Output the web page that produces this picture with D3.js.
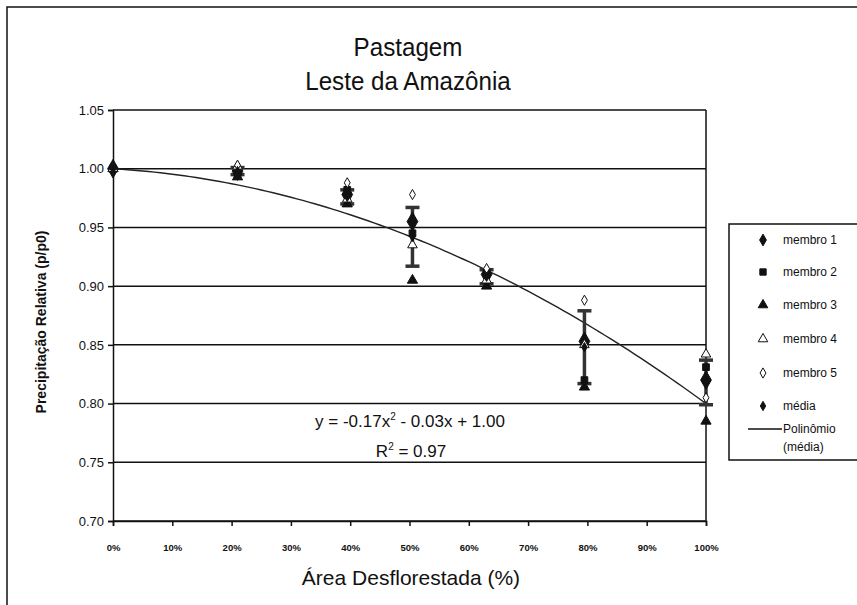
<!DOCTYPE html>
<html>
<head>
<meta charset="utf-8">
<script src="https://cdn.jsdelivr.net/npm/d3@7"></script>
<style>
  body { margin: 0; background: #fff; }
  text { font-family: "Liberation Sans", Arial, sans-serif; fill: #111; }
</style>
</head>
<body>
<svg width="857" height="605"></svg>
<script>
// desmatamento (fração da área) e precipitação relativa por membro
var desmat = [0, 0.21, 0.395, 0.505, 0.63, 0.795, 1.0];
var membro1 = [1.000, 0.998, 0.978, 0.955, 0.910, 0.853, 0.820];
var membro2 = [1.000, 0.995, 0.982, 0.945, 0.912, 0.820, 0.831];
var membro3 = [1.000, 0.993, 0.970, 0.905, 0.900, 0.814, 0.785];
var membro4 = [1.000, 1.002, 0.974, 0.935, 0.905, 0.850, 0.842];
var membro5 = [1.000, 1.003, 0.988, 0.978, 0.915, 0.888, 0.805];
var media   = [1.000, 0.998, 0.976, 0.942, 0.908, 0.848, 0.818];
var desvio  = [0.000, 0.003, 0.006, 0.025, 0.006, 0.031, 0.019];
// coeficientes do polinômio mostrado no gráfico: a0 + a1 x + a2 x^2
var polyCoef = [1.00, -0.03, -0.17];
var yTicks = [0.70, 0.75, 0.80, 0.85, 0.90, 0.95, 1.00, 1.05];
var xTicks = [0, 0.1, 0.2, 0.3, 0.4, 0.5, 0.6, 0.7, 0.8, 0.9, 1.0];
var legendNames = ["membro 1", "membro 2", "membro 3", "membro 4", "membro 5", "média"];

var svg = d3.select("svg");

var x = d3.scaleLinear().domain([0, 1]).range([113, 706]);
var y = d3.scaleLinear().domain([0.70, 1.05]).range([521, 110]);

// moldura externa
svg.append("path")
    .attr("d", "M7,620 L7,7 L870,7")
    .attr("fill", "none").attr("stroke", "#111").attr("stroke-width", 1.5);

// titulo
var title = svg.append("g").attr("transform", "translate(408,0) scale(0.93,1)");
title.append("text").attr("y", 56).attr("text-anchor", "middle")
    .style("font-size", "26px").text("Pastagem");
title.append("text").attr("y", 90).attr("text-anchor", "middle")
    .style("font-size", "26px").text("Leste da Amazônia");

// grade horizontal
svg.append("g").selectAll("line")
    .data(yTicks)
    .enter().append("line")
    .attr("x1", x(0)).attr("x2", x(1))
    .attr("y1", function(d) { return y(d); })
    .attr("y2", function(d) { return y(d); })
    .attr("stroke", "#111").attr("stroke-width", 1.5);

// borda direita da área de plotagem
svg.append("line")
    .attr("x1", x(1)).attr("x2", x(1)).attr("y1", y(1.05)).attr("y2", y(0.70))
    .attr("stroke", "#111").attr("stroke-width", 1.5);

var yAxis = svg.append("g")
    .attr("transform", "translate(" + x(0) + ",0)")
    .call(d3.axisLeft(y).tickValues(yTicks).tickSize(5).tickPadding(4)
        .tickFormat(d3.format(".2f")));
yAxis.selectAll("text").style("font-size", "13px");

var xAxis = svg.append("g")
    .attr("transform", "translate(0," + y(0.70) + ")")
    .call(d3.axisBottom(x).tickValues(xTicks).tickSize(5).tickPadding(18)
        .tickFormat(d3.format(".0%")));
xAxis.selectAll("text").style("font-size", "9.5px").style("font-weight", "bold");

[yAxis, xAxis].forEach(function(a) {
    a.select(".domain").attr("stroke", "#111").attr("stroke-width", 1.5);
    a.selectAll(".tick line").attr("stroke", "#111").attr("stroke-width", 1.5);
});

// rótulos dos eixos
svg.append("text")
    .attr("transform", "translate(46,322) rotate(-90)")
    .attr("text-anchor", "middle")
    .style("font-size", "14px").style("font-weight", "bold")
    .text("Precipitação Relativa (p/p0)");

svg.append("text")
    .attr("x", 411).attr("y", 585).attr("text-anchor", "middle")
    .style("font-size", "21px")
    .text("Área Desflorestada (%)");

// linha de tendência polinomial
var xs = d3.range(0, 1.0001, 0.01);
var trend = d3.line()
    .x(function(d) { return x(d); })
    .y(function(d) { return y(polyCoef[0] + polyCoef[1] * d + polyCoef[2] * d * d); });
svg.append("path")
    .datum(xs)
    .attr("d", trend)
    .attr("fill", "none").attr("stroke", "#222").attr("stroke-width", 1.4);

// barras de erro da média
var eb = svg.append("g").attr("stroke", "#333").attr("stroke-width", 3.5);
desmat.forEach(function(d, i) {
    if (desvio[i] <= 0) return;
    var cx = x(d), t = y(media[i] + desvio[i]), b = y(media[i] - desvio[i]);
    eb.append("line").attr("x1", cx).attr("x2", cx).attr("y1", t).attr("y2", b);
    eb.append("line").attr("x1", cx - 7).attr("x2", cx + 7).attr("y1", t).attr("y2", t);
    eb.append("line").attr("x1", cx - 7).attr("x2", cx + 7).attr("y1", b).attr("y2", b);
});

var seriesDefs = [
    { vals: membro1, sym: d3.symbolDiamond, size: 100, fill: "#111" },
    { vals: membro2, sym: d3.symbolSquare, size: 45, fill: "#111" },
    { vals: membro3, sym: d3.symbolTriangle, size: 45, fill: "#111" },
    { vals: membro4, sym: d3.symbolTriangle, size: 40, fill: "#fff" },
    { vals: membro5, sym: d3.symbolDiamond, size: 30, fill: "#fff" },
    { vals: media, sym: d3.symbolDiamond, size: 25, fill: "#111" }
];

seriesDefs.forEach(function(s) {
    svg.append("g").selectAll("path")
        .data(s.vals)
        .enter().append("path")
        .attr("transform", function(d, i) { return "translate(" + x(desmat[i]) + "," + y(d) + ")"; })
        .attr("d", d3.symbol().type(s.sym).size(s.size))
        .attr("fill", s.fill).attr("stroke", "#111").attr("stroke-width", 1);
});

// equação
var eq = svg.append("text").attr("x", 410).attr("y", 427).attr("text-anchor", "middle")
    .style("font-size", "17px");
eq.append("tspan").text("y = -0.17x");
eq.append("tspan").attr("dy", -7).style("font-size", "10px").text("2");
eq.append("tspan").attr("dy", 7).text(" - 0.03x + 1.00");
var r2 = svg.append("text").attr("x", 411).attr("y", 457).attr("text-anchor", "middle")
    .style("font-size", "17px");
r2.append("tspan").text("R");
r2.append("tspan").attr("dy", -7).style("font-size", "10px").text("2");
r2.append("tspan").attr("dy", 7).text(" = 0.97");

// legenda
var leg = svg.append("g");
leg.append("rect").attr("x", 729).attr("y", 224).attr("width", 150).attr("height", 236)
    .attr("fill", "#fff").attr("stroke", "#111").attr("stroke-width", 1.5);
var legY = [240, 272, 305, 339, 373, 406];
seriesDefs.forEach(function(s, i) {
    leg.append("path")
        .attr("transform", "translate(763," + legY[i] + ")")
        .attr("d", d3.symbol().type(s.sym).size(Math.min(s.size, 40)))
        .attr("fill", s.fill).attr("stroke", "#111").attr("stroke-width", 1);
    leg.append("text").attr("x", 783).attr("y", legY[i] + 4)
        .style("font-size", "12px").text(legendNames[i]);
});
leg.append("line").attr("x1", 748).attr("x2", 782).attr("y1", 429).attr("y2", 429)
    .attr("stroke", "#111").attr("stroke-width", 1.5);
leg.append("text").attr("x", 783).attr("y", 433).style("font-size", "12px").text("Polinômio");
leg.append("text").attr("x", 783).attr("y", 451).style("font-size", "12px").text("(média)");
</script>
</body>
</html>
